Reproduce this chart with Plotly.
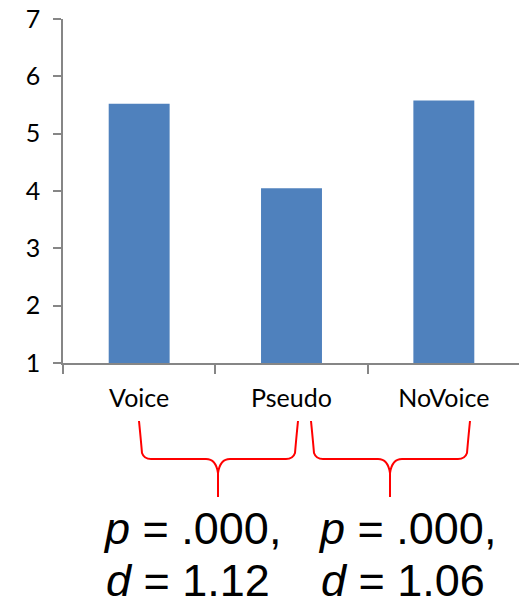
import plotly.graph_objects as go

categories = ["Voice", "Pseudo", "NoVoice"]
values = [5.52, 4.05, 5.58]
y_ticks = [1, 2, 3, 4, 5, 6, 7]
stat_lines = [["<i>p</i> = .000,", "<i>d</i> = 1.12"],
              ["<i>p</i> = .000,", "<i>d</i> = 1.06"]]

# page body has an 8px margin; work in window pixel coordinates
OFF = 8
W, H = 527 - OFF, 604 - OFF
L, R, T, B = 63 - OFF, 7, 19 - OFF, 604 - 363
PW, PH = W - L - R, H - T - B

def px(x):
    return (x - OFF - L) / PW

def py(y):
    return (H - B - (y - OFF)) / PH

AX = "#868686"

fig = go.Figure(go.Bar(x=categories, y=values, marker=dict(color="#4F81BD", line=dict(width=0))))

def brace(x0, x1, xc, ytop, yh, ybot):
    pts = [
        f"M {px(x0)},{py(ytop)}",
        f"Q {px(x0+2)},{py(yh-18)} {px(x0+3)},{py(yh-6)}",
        f"Q {px(x0+5)},{py(yh)} {px(x0+12)},{py(yh)}",
        f"L {px(xc-12)},{py(yh)}",
        f"Q {px(xc-2)},{py(yh)} {px(xc)},{py(yh+14)}",
        f"L {px(xc)},{py(ybot)}",
        f"M {px(xc)},{py(yh+14)}",
        f"Q {px(xc+2)},{py(yh)} {px(xc+12)},{py(yh)}",
        f"L {px(x1-12)},{py(yh)}",
        f"Q {px(x1-5)},{py(yh)} {px(x1-3)},{py(yh-6)}",
        f"Q {px(x1-2)},{py(yh-18)} {px(x1)},{py(ytop)}",
    ]
    return dict(type="path", xref="paper", yref="paper", path=" ".join(pts),
                line=dict(color="#FF0000", width=2))

shapes = [brace(139, 298, 218, 421, 459, 497), brace(311, 470, 390, 421, 459, 497)]

annotations = []
col_x = [101, 316]
line_y = [528, 580]
for c, lines in enumerate(stat_lines):
    for i, t in enumerate(lines):
        annotations.append(dict(text=t, xref="paper", yref="paper", x=px(col_x[c] + (3 if i else 0)),
                                y=py(line_y[i]), xanchor="left", yanchor="middle", showarrow=False,
                                font=dict(family="Liberation Sans, Arial", size=45, color="black")))

fig.update_layout(
    width=W, height=H, margin=dict(l=L, r=R, t=T, b=B, autoexpand=False),
    plot_bgcolor="white", paper_bgcolor="white",
    bargap=0.6, showlegend=False,
    font=dict(family="Lato", color="black"),
    xaxis=dict(range=[-0.5, 2.5], showline=True, linecolor=AX, linewidth=1.5, ticks="outside",
               tickson="boundaries", ticklen=9, tickcolor=AX, tickwidth=1.5, showgrid=False,
               tickfont=dict(size=25, family="Lato"), ticklabelstandoff=12, automargin=False),
    yaxis=dict(range=[1, 7], tickvals=y_ticks, showline=True, linecolor=AX, linewidth=1.5,
               ticks="outside", ticklen=8, tickcolor=AX, tickwidth=1.5, showgrid=False, zeroline=False,
               tickfont=dict(size=25, family="Lato"), ticklabelstandoff=8,
               ticklabeloverflow="allow", automargin=False),
    shapes=shapes, annotations=annotations,
)

fig.write_html("out.html")
